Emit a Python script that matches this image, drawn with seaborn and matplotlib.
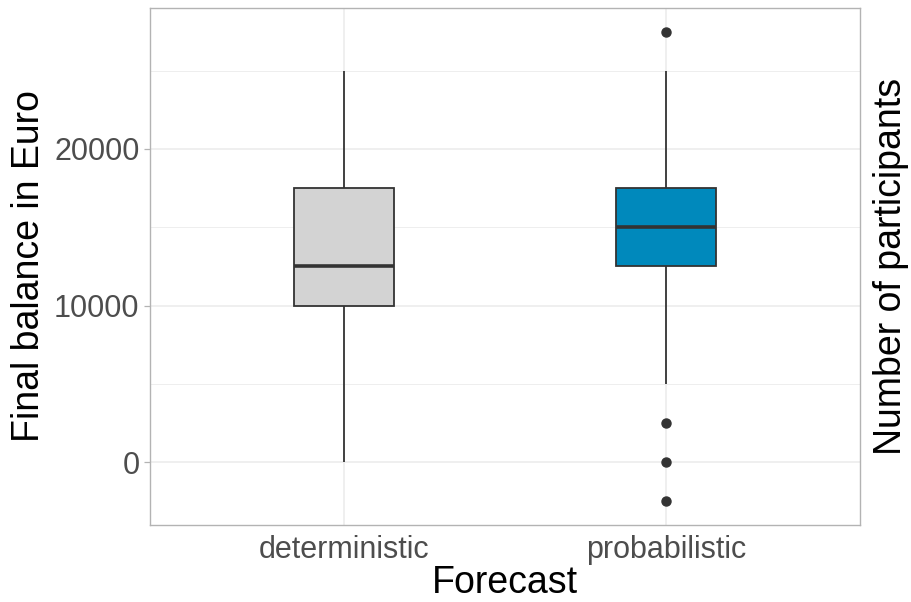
import numpy as np
import pandas as pd
import matplotlib
matplotlib.use("Agg")
import matplotlib.pyplot as plt
import seaborn as sns
from matplotlib.ticker import MultipleLocator

# Final balances (Euro) per participant, by forecast condition
deterministic = [0, 7500, 10000, 12500, 12500, 15000, 17500, 20000, 25000]
probabilistic = [-2500, 0, 2500, 5000, 12500, 12500, 15000, 15000, 15000,
                 15000, 17500, 17500, 17500, 20000, 22500, 25000, 27500]
categories = ["deterministic", "probabilistic"]
box_colors = ["#D3D3D3", "#0089BC"]
y_ticks = [0, 10000, 20000]

df = pd.DataFrame({
    "Forecast": [categories[0]] * len(deterministic) + [categories[1]] * len(probabilistic),
    "Balance": deterministic + probabilistic,
})

sns.set_theme(style="white")
plt.rcParams["font.family"] = ["Liberation Sans", "DejaVu Sans"]

fig = plt.figure(figsize=(9.12, 6.02), dpi=100)
ax = fig.add_axes([0.1645, 0.128, 0.7785, 0.8587])

line_col = "#333333"
sns.boxplot(
    data=df, x="Forecast", y="Balance", hue="Forecast", order=categories,
    hue_order=categories, palette=box_colors, saturation=1, legend=False,
    width=0.31, whis=1.5, linecolor=line_col, linewidth=1.3, showcaps=False,
    medianprops=dict(color=line_col, linewidth=2.6),
    flierprops=dict(marker="o", markerfacecolor=line_col, markeredgecolor=line_col,
                    markersize=6.5),
    ax=ax,
)

ax.set_xlim(-0.6, 1.6)
ax.set_ylim(-4000, 29000)
ax.set_yticks(y_ticks)
ax.set_yticklabels([str(v) for v in y_ticks])

# light panel grid: major lines on both axes, minor lines between y ticks
grid_col = "#EBEBEB"
ax.set_axisbelow(True)
ax.yaxis.set_minor_locator(MultipleLocator(5000))
ax.xaxis.grid(True, which="major", color=grid_col, lw=1.1)
ax.yaxis.grid(True, which="major", color=grid_col, lw=1.1)
ax.yaxis.grid(True, which="minor", color=grid_col, lw=0.6)

for s in ax.spines.values():
    s.set_color("#B3B3B3")
    s.set_linewidth(1.0)

ax.tick_params(axis="both", which="major", length=4.5, width=0.9, color="#B3B3B3",
               labelsize=22, labelcolor="#4D4D4D", pad=3)
ax.tick_params(axis="y", which="minor", length=0)

ax.set_xlabel("Forecast", fontsize=27, color="black", labelpad=0)
ax.set_ylabel("Final balance in Euro", fontsize=27, color="black", labelpad=5)

# secondary axis carrying only its title
ax2 = ax.twinx()
ax2.set_ylim(ax.get_ylim())
ax2.set_yticks([])
for s in ax2.spines.values():
    s.set_visible(False)
ax2.set_ylabel("Number of participants", fontsize=27, color="black",
               rotation=90, labelpad=9)

fig.savefig("out.png", dpi=100)
